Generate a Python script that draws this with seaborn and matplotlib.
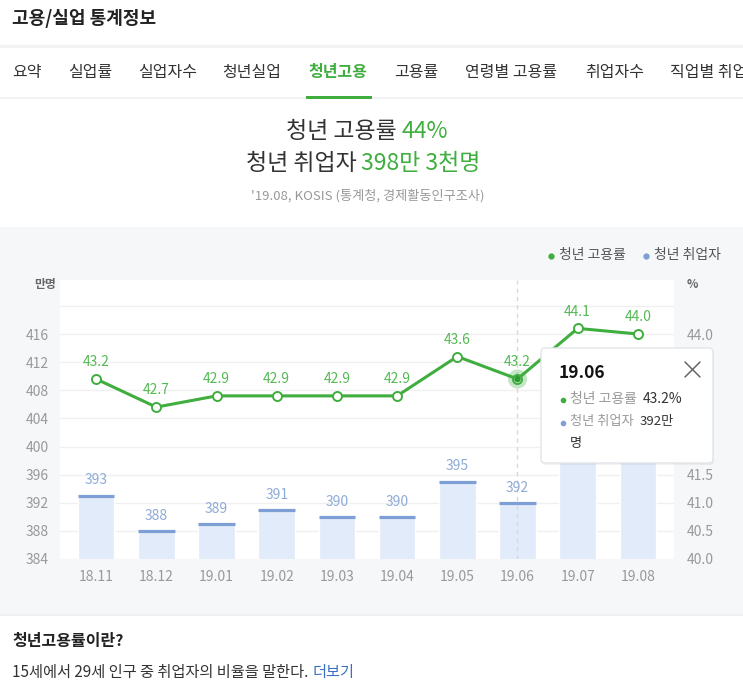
import numpy as np
import pandas as pd
import seaborn as sns
import matplotlib.pyplot as plt
from matplotlib.patches import FancyBboxPatch, Rectangle
from matplotlib.lines import Line2D

# data (19.07 / 19.08 bars are hidden under the tooltip -> estimated)
months = ['18.11', '18.12', '19.01', '19.02', '19.03', '19.04', '19.05', '19.06', '19.07', '19.08']
employed = [393, 388, 389, 391, 390, 390, 395, 392, 400, 398]        # 만명
emp_rate = [43.2, 42.7, 42.9, 42.9, 42.9, 42.9, 43.6, 43.2, 44.1, 44.0]  # %
left_ticks = [384, 388, 392, 396, 400, 404, 408, 412, 416, 420]
right_ticks = [40.0, 40.5, 41.0, 41.5, 42.0, 42.5, 43.0, 43.5, 44.0, 44.5]
tabs = ['요약', '실업률', '실업자수', '청년실업', '청년고용', '고용률', '연령별 고용률', '취업자수', '직업별 취업자']
tab_x = [12, 68, 138, 222, 308, 394, 465, 585, 670]
sel = 7  # tooltip month 19.06

GREEN = '#3fae3f'
GREEN_TXT = '#55b955'
BAR = '#e2ebfa'
BAR_TOP = '#7d9fd5'
BAR_TXT = '#8eaad6'
GRAY = '#999999'
DARK = '#333333'

sns.set_style('white')
plt.rcParams['font.family'] = ['Noto Sans CJK KR', 'DejaVu Sans']

W, H = 743, 694
fig = plt.figure(figsize=(W / 100, H / 100), dpi=100)
fig.patch.set_facecolor('white')
T = fig.dpi_scale_trans


def P(x, y):
    return x / 100, (H - y) / 100


def ftext(x, y, s, **kw):
    return fig.text(*P(x, y), s, transform=T, **kw)


def after(t, s, gap=4, **kw):
    # put a text right after another text artist
    return fig.add_artist(plt.Annotation(s, xy=(1, 0.5), xycoords=t, xytext=(gap, 0),
                                         textcoords='offset points', va='center', **kw))


# page furniture
fig.add_artist(Rectangle(P(0, 614), W / 100, (614 - 227) / 100, transform=T,
                         facecolor='#f6f7f9', edgecolor='none', zorder=-5))
fig.add_artist(Rectangle(P(0, 48), W / 100, 3 / 100, transform=T, facecolor='#f1f2f4', edgecolor='none', zorder=-4))
fig.add_artist(Rectangle(P(0, 99), W / 100, 2 / 100, transform=T, facecolor='#f1f2f4', edgecolor='none', zorder=-4))
fig.add_artist(Rectangle(P(0, 616), W / 100, 2 / 100, transform=T, facecolor='#eeeff1', edgecolor='none', zorder=-4))

ftext(12, 18, '고용/실업 통계정보', fontsize=13, fontweight='bold', color='#222222', va='center')
for name, x in zip(tabs, tab_x):
    active = name == '청년고용'
    ftext(x, 72, name, fontsize=11.5, va='center', color=GREEN if active else DARK,
          fontweight='bold' if active else 'normal')
fig.add_artist(Rectangle(P(306, 99), 66 / 100, 3 / 100, transform=T, facecolor=GREEN, edgecolor='none'))

ftext(397, 132, '청년 고용률', fontsize=16.5, color=DARK, ha='right', va='center')
ftext(401, 132, f'{emp_rate[-1]:.0f}%', fontsize=16.5, color=GREEN, ha='left', va='center')
ftext(357, 163, '청년 취업자', fontsize=16.5, color=DARK, ha='right', va='center')
ftext(361, 163, '398만 3천명', fontsize=16.5, color=GREEN, ha='left', va='center')
ftext(368, 196, "'19.08, KOSIS (통계청, 경제활동인구조사)", fontsize=9.5, color=GRAY, ha='center', va='center')

# legend
fig.add_artist(Line2D(*zip(P(551, 256)), transform=T, marker='o', ms=3.5, color=GREEN, lw=0))
ftext(559, 255, '청년 고용률', fontsize=10, color='#555555', va='center')
fig.add_artist(Line2D(*zip(P(646, 256)), transform=T, marker='o', ms=3.5, color=BAR_TOP, lw=0))
ftext(654, 255, '청년 취업자', fontsize=10, color='#555555', va='center')
ftext(45, 284, '만명', fontsize=8.5, fontweight='bold', color='#666666', ha='center', va='center')
ftext(687, 284, '%', fontsize=8.5, fontweight='bold', color='#666666', ha='left', va='center')

# chart
ax = fig.add_axes([60 / W, 1 - 559 / H, 614 / W, 279 / H])
ax.set_facecolor('white')
df = pd.DataFrame({'month': months, 'employed': employed, 'rate': emp_rate})
sns.barplot(data=df, x='month', y='employed', ax=ax, color=BAR, width=0.61, saturation=1)
idx = np.arange(len(months))
ax.hlines(df['employed'], idx - 0.305, idx + 0.305, color=BAR_TOP, lw=2.3, zorder=3)
for i, v in enumerate(employed):
    ax.annotate(str(v), (i, v), xytext=(0, 11), textcoords='offset points',
                ha='center', va='center', fontsize=10, color=BAR_TXT)
ax.set_ylim(384, 423.7)
ax.set_xlim(-0.6, 9.6)
ax.set_yticks(left_ticks)
ax.set_yticklabels([str(t) if t < 420 else '' for t in left_ticks])
ax.grid(axis='y', color='#f0f0f0', lw=1)
ax.grid(axis='x', visible=False)
ax.set_axisbelow(True)
ax.axvline(sel, color='#d8d8d8', ls=(0, (3, 3)), lw=1, zorder=1)
ax.set_xlabel('')
ax.set_ylabel('')
ax.tick_params(axis='x', length=0, pad=8, labelsize=10, labelcolor=GRAY)
ax.tick_params(axis='y', length=0, pad=8, labelsize=10, labelcolor=GRAY)
sns.despine(ax=ax, left=True, bottom=True)

ax2 = ax.twinx()
sns.lineplot(x=idx, y=df['rate'], ax=ax2, color=GREEN, lw=2.2, marker='o', markersize=6.5,
             markerfacecolor='white', markeredgecolor=GREEN, markeredgewidth=1.4)
ax2.scatter([sel], [emp_rate[sel]], s=190, color=GREEN, alpha=0.3, edgecolor='none', zorder=5)
ax2.scatter([sel], [emp_rate[sel]], s=22, color='#2f9a2f', edgecolor='none', zorder=6)
for i, v in enumerate(emp_rate):
    ax2.annotate(f'{v:.1f}', (i, v), xytext=(0, 12), textcoords='offset points',
                 ha='center', va='center', fontsize=10, color=GREEN_TXT)
ax2.set_ylim(40, 44.96)
ax2.set_yticks(right_ticks)
ax2.set_yticklabels([f'{t:.1f}' if t < 44.5 else '' for t in right_ticks])
ax2.tick_params(axis='y', length=0, pad=9, labelsize=10, labelcolor=GRAY)
ax2.set_ylabel('')
ax2.grid(False)
for s in ax2.spines.values():
    s.set_visible(False)

# tooltip
fig.add_artist(FancyBboxPatch(P(542, 465), 172 / 100, 115 / 100, transform=T,
                              boxstyle='round,pad=0,rounding_size=0.04',
                              facecolor='#000000', alpha=0.05, edgecolor='none', zorder=8))
fig.add_artist(FancyBboxPatch(P(541, 463), 172 / 100, 115 / 100, transform=T,
                              boxstyle='round,pad=0,rounding_size=0.04',
                              facecolor='white', edgecolor='#e2e4e8', lw=1, zorder=9))
ftext(559, 373, months[sel], fontsize=12.5, fontweight='bold', color='#111111', va='center', zorder=10)
for a, b in [((685, 362), (700, 377)), ((685, 377), (700, 362))]:
    fig.add_artist(Line2D(*zip(P(*a), P(*b)), transform=T, color='#666666', lw=1.1, zorder=10))
fig.add_artist(Line2D(*zip(P(563, 400)), transform=T, marker='o', ms=3, color=GREEN, lw=0, zorder=10))
t1 = ftext(570, 399, '청년 고용률', fontsize=10, color=GRAY, va='center', zorder=10)
after(t1, f'{emp_rate[sel]}%', fontsize=10, color=DARK, zorder=10)
fig.add_artist(Line2D(*zip(P(563, 423)), transform=T, marker='o', ms=3, color=BAR_TOP, lw=0, zorder=10))
t2 = ftext(570, 421, '청년 취업자', fontsize=9.5, color=GRAY, va='center', zorder=10)
after(t2, f'{employed[sel]}만', fontsize=9.5, color=DARK, zorder=10)
ftext(570, 443, '명', fontsize=9.5, color=DARK, va='center', zorder=10)

# footer
ftext(12, 641, '청년고용률이란?', fontsize=11.5, fontweight='bold', color='#222222', va='center')
t3 = ftext(12, 673, '15세에서 29세 인구 중 취업자의 비율을 말한다.', fontsize=11, color=DARK, va='center')
after(t3, '더보기', gap=3, fontsize=11, color='#3b6fc4')

plt.savefig('out.png', dpi=100)
